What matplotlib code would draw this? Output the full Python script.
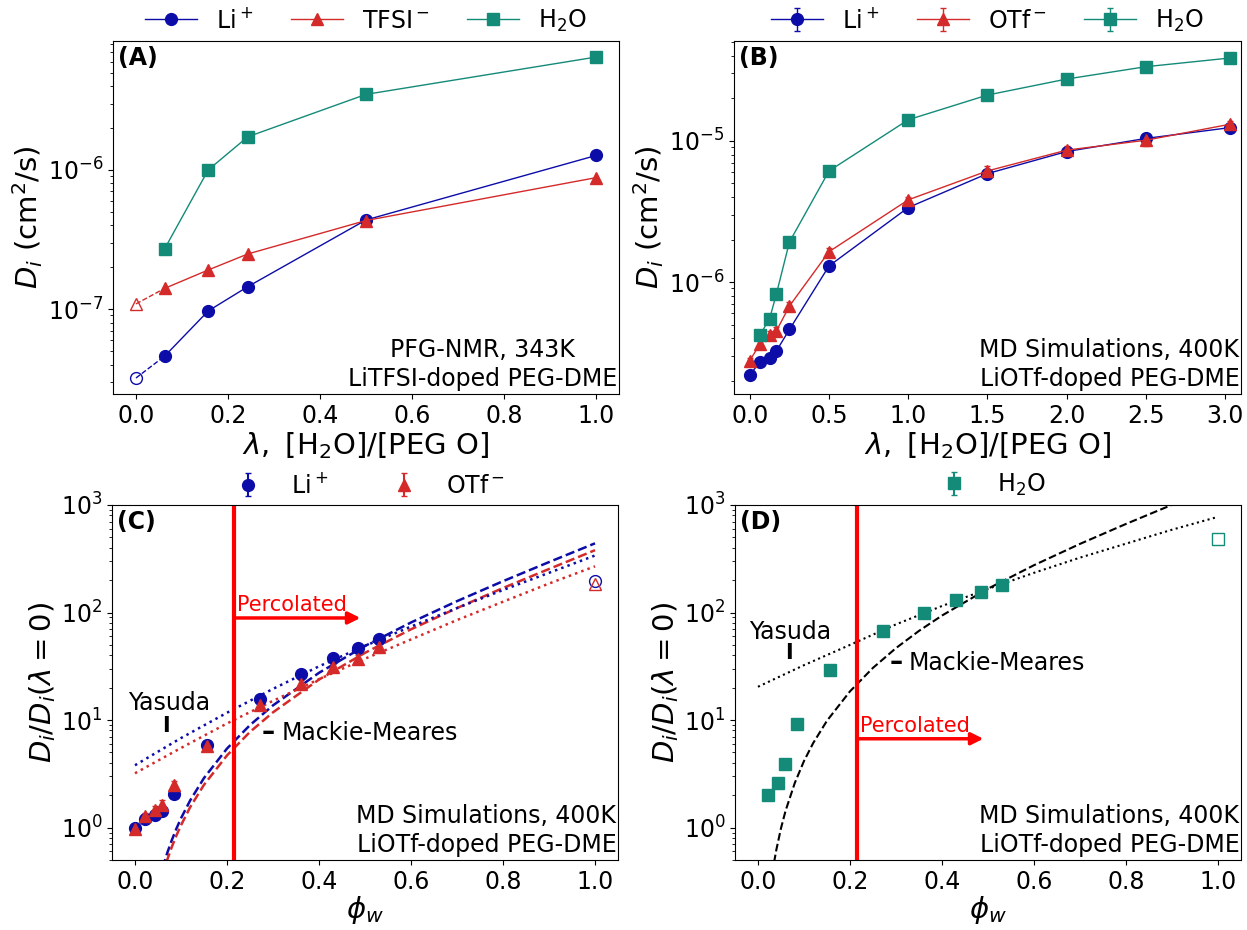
import matplotlib.pyplot as plt

# ---------------- data ----------------
# (A) PFG-NMR, LiTFSI
lam_a = [0.0, 0.0625, 0.157, 0.243, 0.5, 1.0]
li_a = [3.2e-8, 4.6e-8, 9.7e-8, 1.45e-7, 4.37e-7, 1.27e-6]
tfsi_a = [1.09e-7, 1.41e-7, 1.91e-7, 2.49e-7, 4.33e-7, 8.8e-7]
lam_a_w = [0.0625, 0.157, 0.243, 0.5, 1.0]
h2o_a = [2.72e-7, 1.0e-6, 1.73e-6, 3.49e-6, 6.47e-6]

# (B) MD, LiOTf
lam_b = [0.0, 0.0625, 0.125, 0.167, 0.25, 0.5, 1.0, 1.5, 2.0, 2.5, 3.03]
li_b = [2.19e-7, 2.71e-7, 2.90e-7, 3.24e-7, 4.61e-7, 1.30e-6, 3.37e-6, 5.86e-6, 8.40e-6, 1.04e-5, 1.24e-5]
li_b_err = [0.1e-7, 0.1e-7, 0.1e-7, 0.1e-7, 0.2e-7, 0.5e-7, 1.5e-7, 2.5e-7, 4e-7, 6e-7, 4e-7]
otf_b = [2.78e-7, 3.61e-7, 4.19e-7, 4.49e-7, 6.76e-7, 1.64e-6, 3.82e-6, 6.12e-6, 8.59e-6, 1.01e-5, 1.31e-5]
otf_b_err = [0.1e-7, 0.2e-7, 0.3e-7, 0.3e-7, 0.5e-7, 1e-7, 2e-7, 5e-7, 6e-7, 9e-7, 8e-7]
lam_b_w = [0.0625, 0.125, 0.167, 0.25, 0.5, 1.0, 1.5, 2.0, 2.5, 3.03]
h2o_b = [4.19e-7, 5.50e-7, 8.18e-7, 1.92e-6, 6.12e-6, 1.41e-5, 2.11e-5, 2.74e-5, 3.35e-5, 3.86e-5]
h2o_b_err = [0.1e-7, 0.1e-7, 0.2e-7, 0.4e-7, 1e-7, 2e-7, 3e-7, 4e-7, 5e-7, 6e-7]

# (C) normalised ion diffusion vs water volume fraction
phi = [0.0, 0.0225, 0.0445, 0.0585, 0.0849, 0.157, 0.272, 0.361, 0.430, 0.485, 0.530]
li_c = [1.0, 1.21, 1.30, 1.43, 2.07, 5.92, 15.6, 26.9, 38.1, 46.9, 56.5]
li_c_err = [0.03, 0.04, 0.05, 0.06, 0.1, 0.2, 0.8, 1.0, 1.5, 2.0, 2.5]
otf_c = [0.98, 1.27, 1.45, 1.61, 2.47, 5.75, 13.7, 21.5, 30.9, 37.0, 47.9]
otf_c_err = [0.05, 0.1, 0.15, 0.18, 0.25, 0.3, 1.2, 2.0, 2.0, 3.5, 3.0]
phi_pure = 1.0
li_pure = 197
otf_pure = 183

phi_mm_c = [0.06, 0.07, 0.08, 0.09, 0.1, 0.12, 0.15, 0.2, 0.25, 0.3, 0.4, 0.5, 0.6, 0.7, 0.8, 0.9, 1.0]
mm_li = [0.421, 0.579, 0.764, 0.977, 1.22, 1.79, 2.89, 5.43, 8.98, 13.7, 27.5, 48.9, 80.8, 127.6, 195.6, 294.5, 440]
mm_otf = [0.364, 0.50, 0.66, 0.844, 1.05, 1.55, 2.50, 4.69, 7.76, 11.8, 23.8, 42.2, 69.8, 110, 169, 254, 380]
phi_yas = [0.0, 0.1, 0.2, 0.3, 0.4, 0.5, 0.6, 0.7, 0.8, 0.9, 1.0]
yas_li = [3.8, 6.8, 11.7, 19.5, 31.6, 49, 74, 110, 162, 234, 339]
yas_otf = [3.2, 5.5, 9.3, 15.1, 24.0, 37.2, 56.2, 85.1, 126, 186, 269]

# (D) normalised water diffusion
phi_w = [0.0225, 0.0445, 0.0585, 0.0849, 0.157, 0.272, 0.361, 0.430, 0.485, 0.530]
h2o_d = [2.0, 2.62, 3.94, 9.27, 29.5, 67.5, 100, 130, 156, 182]
h2o_d_err = [0.05, 0.06, 0.08, 0.2, 0.5, 1.5, 2.0, 3.0, 3.0, 4.0]
h2o_pure = 481
phi_mm_d = [0.035, 0.04, 0.05, 0.06, 0.08, 0.1, 0.12, 0.15, 0.2, 0.25, 0.3, 0.35, 0.4, 0.5, 0.6, 0.7, 0.8, 0.9, 0.95]
mm_h2o = [0.476, 0.625, 0.986, 1.435, 2.60, 4.16, 6.11, 9.86, 18.5, 30.6, 46.7, 67.5, 93.75, 166.7, 275.5, 434.9, 666.7, 1004, 1228]
yas_h2o = [20.4, 32.4, 50, 77.6, 115, 166, 234, 324, 437, 589, 776]

phi_perc = 0.215

blue = '#0c0ca8'
red = '#d42a2a'
teal = '#148a78'

plt.rcParams['font.size'] = 17
plt.rcParams['axes.labelsize'] = 21
plt.rcParams['xtick.labelsize'] = 17
plt.rcParams['ytick.labelsize'] = 17
plt.rcParams['legend.fontsize'] = 17

fig = plt.figure(figsize=(12.47, 9.3), dpi=100)
axA = fig.add_axes([0.0906, 0.5763, 0.4058, 0.3796])
axB = fig.add_axes([0.5886, 0.5763, 0.4066, 0.3796])
axC = fig.add_axes([0.0898, 0.0753, 0.4058, 0.3817])
axD = fig.add_axes([0.5894, 0.0753, 0.4058, 0.3817])

ms = 8.5


def corner_text(ax, letter, note):
    ax.text(0.01, 0.985, letter, transform=ax.transAxes, ha='left', va='top',
            fontsize=17, fontweight='bold')
    ax.text(0.997, 0.008, note, transform=ax.transAxes, ha='right', va='bottom',
            multialignment='center', fontsize=17, linespacing=1.25)


# ---- (A) ----
axA.plot(lam_a[1:], li_a[1:], '-o', color=blue, ms=ms, lw=1, label='Li$^+$')
axA.plot(lam_a[:2], li_a[:2], '--', color=blue, lw=1)
axA.plot(lam_a[0], li_a[0], 'o', mfc='none', mec=blue, ms=ms)
axA.plot(lam_a[1:], tfsi_a[1:], '-^', color=red, ms=ms, lw=1, label='TFSI$^-$')
axA.plot(lam_a[:2], tfsi_a[:2], '--', color=red, lw=1)
axA.plot(lam_a[0], tfsi_a[0], '^', mfc='none', mec=red, ms=ms)
axA.plot(lam_a_w, h2o_a, '-s', color=teal, ms=ms, lw=1, label='H$_2$O')
axA.set_yscale('log')
axA.set_xlim(-0.05, 1.05)
axA.set_xlabel(r'$\lambda,\ [\mathrm{H_2O}]/[\mathrm{PEG\ O}]$', labelpad=2)
axA.set_ylabel(r'$D_i$ (cm$^2$/s)', labelpad=2)
axA.legend(loc='lower center', bbox_to_anchor=(0.5, 0.99), ncol=3, frameon=False,
           borderaxespad=0.05, columnspacing=1.6, handlelength=2.2)
corner_text(axA, '(A)', 'PFG-NMR, 343K\nLiTFSI-doped PEG-DME')

# ---- (B) ----
axB.errorbar(lam_b, li_b, yerr=li_b_err, fmt='-o', color=blue, ms=ms, lw=1,
             capsize=2, label='Li$^+$')
axB.errorbar(lam_b, otf_b, yerr=otf_b_err, fmt='-^', color=red, ms=ms, lw=1,
             capsize=2, label='OTf$^-$')
axB.errorbar(lam_b_w, h2o_b, yerr=h2o_b_err, fmt='-s', color=teal, ms=ms, lw=1,
             capsize=2, label='H$_2$O')
axB.set_yscale('log')
axB.set_xlim(-0.1, 3.1)
axB.set_xlabel(r'$\lambda,\ [\mathrm{H_2O}]/[\mathrm{PEG\ O}]$', labelpad=2)
axB.set_ylabel(r'$D_i$ (cm$^2$/s)', labelpad=2)
axB.legend(loc='lower center', bbox_to_anchor=(0.5, 0.99), ncol=3, frameon=False,
           borderaxespad=0.05, columnspacing=1.6, handlelength=2.2)
corner_text(axB, '(B)', 'MD Simulations, 400K\nLiOTf-doped PEG-DME')


def percolation(ax, y_arrow, y_text):
    ax.axvline(phi_perc, color='red', lw=3)
    ax.annotate('', xy=(0.49, y_arrow), xytext=(phi_perc, y_arrow),
                arrowprops=dict(arrowstyle='-|>', color='red', lw=2.5, mutation_scale=18,
                                shrinkA=0, shrinkB=0))
    ax.text(phi_perc + 0.006, y_text, 'Percolated', color='red', fontsize=15,
            ha='left', va='center')


def model_labels(ax, yas_xy, bar_xy, mm_xy):
    ax.text(yas_xy[0], yas_xy[1], 'Yasuda', ha='center', va='center', fontsize=17)
    ax.text(bar_xy[0], bar_xy[1], 'I', ha='center', va='center', fontsize=15,
            fontweight='bold')
    ax.text(mm_xy[0], mm_xy[1], '\u2013', ha='center', va='center', fontsize=19,
            fontweight='bold')
    ax.text(mm_xy[0] + 0.028, mm_xy[1], 'Mackie-Meares', ha='left', va='center',
            fontsize=17)


# ---- (C) ----
axC.errorbar(phi, li_c, yerr=li_c_err, fmt='o', color=blue, ms=ms, capsize=2,
             label='Li$^+$')
axC.errorbar(phi, otf_c, yerr=otf_c_err, fmt='^', color=red, ms=ms, capsize=2,
             label='OTf$^-$')
axC.plot(phi_pure, li_pure, 'o', mfc='none', mec=blue, ms=ms)
axC.plot(phi_pure, otf_pure, '^', mfc='none', mec=red, ms=ms)
axC.plot(phi_mm_c, mm_li, '--', color=blue, lw=1.8)
axC.plot(phi_mm_c, mm_otf, '--', color=red, lw=1.8)
axC.plot(phi_yas, yas_li, ':', color=blue, lw=1.8)
axC.plot(phi_yas, yas_otf, ':', color=red, lw=1.8)
percolation(axC, 89, 117)
model_labels(axC, (0.075, 14.5), (0.067, 8.8), (0.29, 7.5))
axC.set_yscale('log')
axC.set_ylim(0.5, 1000)
axC.set_xlim(-0.05, 1.05)
axC.set_xlabel(r'$\phi_w$', labelpad=0)
axC.set_ylabel(r'$D_i/D_i(\lambda=0)$', labelpad=2)
axC.legend(loc='lower center', bbox_to_anchor=(0.5, 0.99), ncol=2, frameon=False,
           borderaxespad=0.05, columnspacing=2.2)
corner_text(axC, '(C)', 'MD Simulations, 400K\nLiOTf-doped PEG-DME')

# ---- (D) ----
axD.errorbar(phi_w, h2o_d, yerr=h2o_d_err, fmt='s', color=teal, ms=ms, capsize=2,
             label='H$_2$O')
axD.plot(phi_pure, h2o_pure, 's', mfc='none', mec=teal, ms=ms)
axD.plot(phi_mm_d, mm_h2o, '--', color='black', lw=1.5)
axD.plot(phi_yas, yas_h2o, ':', color='black', lw=1.5)
percolation(axD, 6.7, 8.8)
model_labels(axD, (0.07, 66), (0.068, 42), (0.30, 33.6))
axD.set_yscale('log')
axD.set_ylim(0.5, 1000)
axD.set_xlim(-0.05, 1.05)
axD.set_xlabel(r'$\phi_w$', labelpad=0)
axD.set_ylabel(r'$D_i/D_i(\lambda=0)$', labelpad=2)
axD.legend(loc='lower center', bbox_to_anchor=(0.5, 0.99), ncol=1, frameon=False,
           borderaxespad=0.05)
corner_text(axD, '(D)', 'MD Simulations, 400K\nLiOTf-doped PEG-DME')

plt.savefig('out.png', dpi=100)
